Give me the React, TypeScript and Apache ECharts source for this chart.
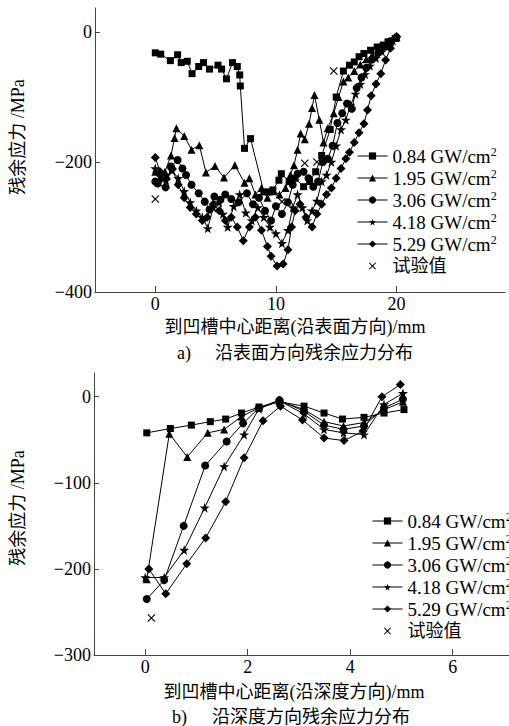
import React, { useEffect, useRef } from "react";
import * as echarts from "echarts";

// ---- (a) residual stress along the surface, x in mm, stress in MPa ----
const surf084: [number, number][] = [
  [0, -32], [0.45, -34], [1.25, -44], [1.85, -35], [2.15, -47], [2.65, -45], [3.05, -64],
  [3.6, -53], [4.0, -47], [4.5, -57], [5.2, -51], [5.5, -57], [5.9, -72], [6.4, -47],
  [6.8, -53], [7.0, -66], [7.05, -83], [7.4, -179], [7.9, -164], [9.0, -246], [9.45, -246],
  [9.75, -243], [10.25, -228], [10.45, -218], [11.1, -230], [11.6, -225], [12.3, -238],
  [12.8, -230], [13.3, -215], [13.8, -190], [14.5, -150], [15.0, -100], [15.6, -60],
  [16.1, -51], [16.5, -46], [16.9, -38], [17.3, -33], [17.85, -28], [18.4, -23], [18.9, -20],
  [19.3, -15], [19.9, -10],
];
const surf195: [number, number][] = [
  [0, -215], [0.4, -225], [0.8, -215], [1.3, -190], [1.6, -163], [1.75, -148], [2.4, -160],
  [3.0, -181], [3.65, -174], [4.2, -216], [4.95, -206], [5.7, -224], [6.6, -205], [7.4, -232],
  [7.8, -225], [8.3, -250], [8.8, -240], [9.3, -255], [9.8, -245], [10.3, -250], [10.8, -240],
  [11.2, -220], [11.5, -205], [11.8, -181], [12.05, -156], [12.4, -165], [12.75, -141],
  [13.0, -117], [13.2, -97], [13.6, -135], [13.95, -170], [14.3, -148], [14.8, -125],
  [15.2, -100], [15.6, -76], [16.0, -70], [16.5, -60], [17.0, -50], [17.5, -42], [18.0, -35],
  [18.5, -28], [19.0, -22], [19.5, -15], [20, -8],
];
const surf306: [number, number][] = [
  [0, -230], [0.2, -233], [0.85, -239], [1.3, -207], [1.85, -197], [2.25, -210], [2.55, -220],
  [3.0, -235], [3.6, -248], [4.1, -261], [4.5, -273], [4.9, -253], [5.4, -258], [5.8, -250],
  [6.3, -257], [6.9, -262], [7.6, -248], [8.1, -265], [8.6, -255], [9.1, -275], [9.6, -290],
  [10.0, -268], [10.5, -280], [11.0, -262], [11.4, -235], [11.8, -218], [12.3, -215],
  [12.7, -225], [13.1, -238], [13.5, -230], [13.9, -200], [14.3, -195], [14.7, -175],
  [15.1, -140], [15.5, -125], [15.9, -110], [16.3, -118], [16.7, -86], [17.1, -70],
  [17.5, -55], [18.0, -42], [18.5, -32], [19.0, -22], [19.5, -14], [20, -8],
];
const surf418: [number, number][] = [
  [0, -210], [0.4, -222], [0.9, -228], [1.4, -213], [1.9, -225], [2.4, -245], [2.9, -262],
  [3.4, -275], [3.9, -285], [4.35, -302], [4.8, -270], [5.3, -262], [5.6, -280], [6.0, -300],
  [6.5, -268], [7.0, -250], [7.5, -278], [8.0, -290], [8.5, -270], [9.0, -285], [9.5, -300],
  [10.0, -310], [10.5, -325], [11.0, -305], [11.4, -270], [11.8, -250], [12.2, -270],
  [12.6, -290], [13.0, -275], [13.4, -260], [13.8, -230], [14.2, -220], [14.6, -200],
  [15.0, -175], [15.4, -150], [15.8, -135], [16.2, -112], [16.6, -95], [17.0, -80],
  [17.4, -65], [17.8, -52], [18.3, -40], [18.8, -30], [19.3, -20], [19.7, -13], [20, -8],
];
const surf529: [number, number][] = [
  [0, -193], [0.4, -215], [0.9, -225], [1.4, -210], [1.9, -235], [2.4, -255], [2.9, -270],
  [3.4, -280], [3.9, -290], [4.3, -285], [4.8, -265], [5.3, -275], [5.8, -290], [6.3, -285],
  [6.8, -300], [7.3, -321], [7.8, -300], [8.3, -285], [8.8, -305], [9.3, -330], [9.6, -345],
  [10.1, -360], [10.6, -357], [11.0, -335], [11.3, -300], [11.6, -275], [12.0, -265],
  [12.5, -285], [13.0, -300], [13.4, -280], [13.8, -265], [14.2, -250], [14.6, -240],
  [15.0, -225], [15.4, -210], [15.8, -195], [16.1, -185], [16.5, -170], [16.9, -155],
  [17.3, -141], [17.6, -120], [17.9, -98], [18.3, -80], [18.7, -64], [19.1, -43],
  [19.5, -25], [20, -7],
];
const surfTest: [number, number][] = [
  [0, -257], [10.5, -261], [12.4, -202], [13.4, -200], [14.8, -60],
];

// ---- (b) residual stress along the depth ----
const depth084: [number, number][] = [
  [0.03, -42], [0.49, -37], [0.9, -33], [1.27, -29], [1.57, -26], [1.88, -19], [2.22, -12],
  [2.62, -6], [3.1, -11], [3.49, -19], [3.85, -26], [4.27, -24], [4.66, -19], [5.05, -15],
];
const depth195: [number, number][] = [
  [0.03, -212], [0.47, -43], [0.82, -70], [1.22, -42], [1.54, -38], [1.88, -23], [2.22, -13],
  [2.62, -5], [3.1, -15], [3.49, -29], [3.87, -34], [4.27, -30], [4.66, -15], [5.03, -6],
];
const depth306: [number, number][] = [
  [0.03, -235], [0.37, -213], [0.75, -150], [1.17, -80], [1.59, -52], [1.91, -31], [2.22, -13],
  [2.62, -4], [3.1, -17], [3.49, -33], [3.87, -38], [4.27, -34], [4.66, -13], [5.03, -3],
];
const depth418: [number, number][] = [
  [0.0, -210], [0.37, -210], [0.76, -178], [1.16, -129], [1.54, -81], [1.93, -44], [2.22, -14],
  [2.62, -5], [3.1, -20], [3.49, -38], [3.87, -42], [4.27, -44], [4.66, -9], [5.03, 4],
];
const depth529: [number, number][] = [
  [0.07, -200], [0.4, -229], [0.81, -194], [1.18, -164], [1.57, -122], [1.93, -71], [2.3, -28],
  [2.64, -11], [3.07, -27], [3.49, -48], [3.88, -51], [4.25, -40], [4.62, 0], [4.98, 14],
];
const depthTest: [number, number][] = [[0.12, -257]];

const seriesNames = ["0.84 GW/cm2", "1.95 GW/cm2", "3.06 GW/cm2", "4.18 GW/cm2", "5.29 GW/cm2"];
const testName = "试验值";

const surfTicksX = [0, 10, 20];
const surfTicksY = [-400, -200, 0];
const depthTicksX = [0, 2, 4, 6];
const depthTicksY = [-300, -200, -100, 0];

const STAR = "path://M50,0 L61,35 L98,35 L68,57 L79,91 L50,70 L21,91 L32,57 L2,35 L39,35 Z";
const CROSS = "path://M0,1 L1,0 L5,4 L9,0 L10,1 L6,5 L10,9 L9,10 L5,6 L1,10 L0,9 L4,5 Z";
const symbols = ["rect", "triangle", "circle", STAR, "diamond"];
const symbolSizes = [7, 8, 8, 10, 9];

const FONT = '"Liberation Serif", "Times New Roman", "Noto Sans CJK SC", serif';
const minus = (v: number) => (v < 0 ? "\u2212" + Math.abs(v) : String(v));

function lineSeries(name: string, data: [number, number][], i: number, axis: number) {
  return {
    type: "line",
    name,
    data,
    xAxisIndex: axis,
    yAxisIndex: axis,
    symbol: symbols[i],
    symbolSize: symbolSizes[i],
    showAllSymbol: true,
    color: "#000",
    lineStyle: { color: "#000", width: 1 },
    itemStyle: { color: "#000" },
    z: 2,
  };
}

function testSeries(data: [number, number][], axis: number) {
  return {
    type: "line",
    name: testName,
    data,
    xAxisIndex: axis,
    yAxisIndex: axis,
    symbol: CROSS,
    symbolSize: 8,
    color: "#000",
    lineStyle: { width: 0, opacity: 0 },
    itemStyle: { color: "#000" },
    z: 3,
  };
}

function legendFor(left: number, top: number) {
  return {
    left,
    top,
    orient: "vertical",
    itemWidth: 30,
    itemHeight: 9,
    itemGap: 2,
    icon: undefined,
    lineStyle: { width: 1 },
    data: [
      ...seriesNames.map((n) => ({ name: n })),
      { name: testName, lineStyle: { width: 0, opacity: 0 } },
    ],
    formatter: (name: string) =>
      name === testName ? `{c|${name}}` : `{n|${name.slice(0, -1)}}{s|2}`,
    textStyle: {
      color: "#000",
      fontFamily: FONT,
      fontSize: 19,
      lineHeight: 20,
      rich: {
        n: { fontFamily: FONT, fontSize: 19, lineHeight: 20, color: "#000" },
        s: { fontFamily: FONT, fontSize: 12, lineHeight: 20, verticalAlign: "top", color: "#000" },
        c: { fontFamily: FONT, fontSize: 18, lineHeight: 20, color: "#000" },
      },
    },
  };
}

function xAxisFor(grid: number, min: number, max: number, ticks: number[]) {
  return {
    type: "value",
    gridIndex: grid,
    min,
    max,
    axisLine: { show: true, onZero: false, lineStyle: { color: "#444", width: 1 } },
    axisTick: { show: true, inside: true, length: 6, customValues: ticks, lineStyle: { color: "#444" } },
    axisLabel: {
      customValues: ticks,
      margin: 3,
      color: "#000",
      fontFamily: FONT,
      fontSize: 18,
      formatter: minus,
    },
    splitLine: { show: false },
  };
}

function yAxisFor(grid: number, min: number, max: number, ticks: number[]) {
  return {
    type: "value",
    gridIndex: grid,
    min,
    max,
    axisLine: { show: true, onZero: false, lineStyle: { color: "#444", width: 1 } },
    axisTick: { show: true, inside: true, length: 5, customValues: ticks, lineStyle: { color: "#444" } },
    axisLabel: {
      customValues: ticks,
      margin: 3,
      color: "#000",
      fontFamily: FONT,
      fontSize: 18,
      formatter: minus,
    },
    splitLine: { show: false },
  };
}

function label(text: string, x: number, y: number, opts: any = {}) {
  return {
    type: "text",
    x,
    y,
    rotation: opts.rotation || 0,
    style: {
      text,
      fill: "#000",
      font: `${opts.size || 18}px ${FONT}`,
      align: opts.align || "center",
      verticalAlign: "middle",
    },
  };
}

export default function App() {
  const ref = useRef<HTMLDivElement>(null);

  useEffect(() => {
    if (!ref.current) return;
    const chart = echarts.init(ref.current, null, { renderer: "svg" });
    const surface = [surf084, surf195, surf306, surf418, surf529];
    const depth = [depth084, depth195, depth306, depth418, depth529];

    chart.setOption({
      animation: false,
      backgroundColor: "#fff",
      grid: [
        { left: 95, top: 8, width: 410, height: 284 },
        { left: 94, top: 373, width: 415, height: 282 },
      ],
      xAxis: [xAxisFor(0, -5, 29, surfTicksX), xAxisFor(1, -1, 7.1, depthTicksX)],
      yAxis: [yAxisFor(0, -400, 37, surfTicksY), yAxisFor(1, -300, 27.5, depthTicksY)],
      legend: [legendFor(352, 141), legendFor(367, 506)],
      series: [
        ...surface.map((d, i) => lineSeries(seriesNames[i], d, i, 0)),
        testSeries(surfTest, 0),
        ...depth.map((d, i) => lineSeries(seriesNames[i], d, i, 1)),
        testSeries(depthTest, 1),
      ],
      graphic: [
        label("残余应力 /MPa", 18, 137, { rotation: Math.PI / 2 }),
        label("到凹槽中心距离(沿表面方向)/mm", 295, 327),
        label("a)", 177, 353, { align: "left" }),
        label("沿表面方向残余应力分布", 215, 353, { align: "left" }),
        label("残余应力 /MPa", 18, 508, { rotation: Math.PI / 2 }),
        label("到凹槽中心距离(沿深度方向)/mm", 294, 692),
        label("b)", 172, 717, { align: "left" }),
        label("沿深度方向残余应力分布", 212, 717, { align: "left" }),
      ],
    });
    return () => chart.dispose();
  }, []);

  return (
    <div
      ref={ref}
      style={{ position: "fixed", left: 0, top: 0, width: 509, height: 726, background: "#fff" }}
    />
  );
}
